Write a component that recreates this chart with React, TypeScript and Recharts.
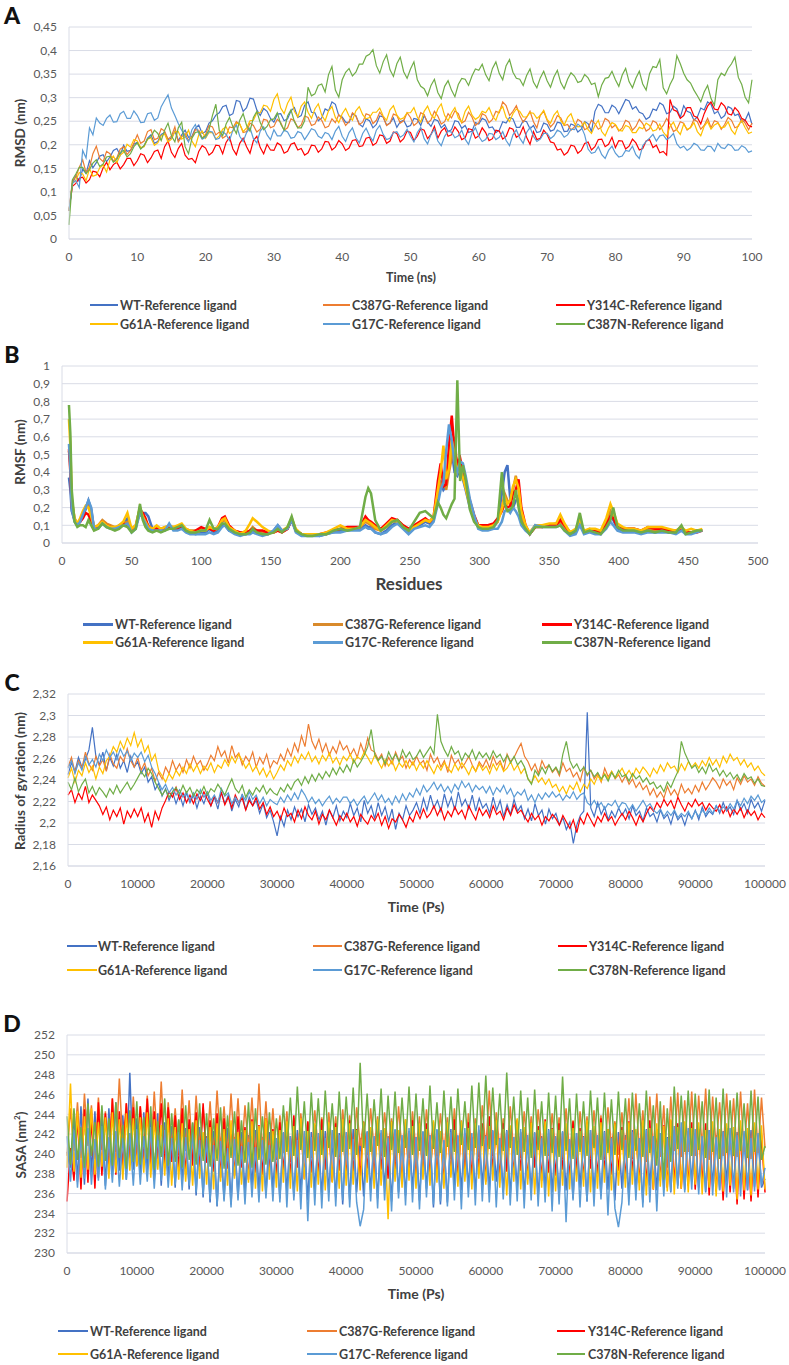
import { LineChart, Line, XAxis, YAxis, CartesianGrid } from "recharts";

const FONT = "Lato, 'Open Sans', sans-serif";
const GRID = "#D9DCE6";
const TEXT = "#404040";

// ---------- A: RMSD (nm) vs time (ns), every 0.5 ns ----------
const rmsdTime = Array.from({ length: 201 }, (_, i) => i * 0.5);
const rmsdWT = [
  0.060,0.118,0.134,0.122,0.148,0.139,0.166,0.151,0.162,0.176,0.179,0.164,0.174,0.188,0.192,0.178,0.199,0.186,0.188,0.201,
  0.205,0.192,0.198,0.214,0.221,0.203,0.207,0.222,0.226,0.211,0.214,0.229,0.209,0.221,0.231,0.216,0.218,0.235,0.242,0.224,
  0.228,0.246,0.251,0.263,0.268,0.281,0.284,0.262,0.266,0.294,0.292,0.271,0.279,0.299,0.297,0.274,0.262,0.277,0.271,0.256,
  0.248,0.265,0.266,0.251,0.255,0.272,0.279,0.258,0.262,0.284,0.291,0.269,0.268,0.251,0.257,0.276,0.272,0.291,0.286,0.262,
  0.259,0.248,0.247,0.266,0.262,0.244,0.238,0.255,0.251,0.236,0.243,0.261,0.259,0.242,0.246,0.257,0.237,0.249,0.252,0.238,
  0.241,0.256,0.254,0.241,0.262,0.248,0.239,0.254,0.251,0.236,0.243,0.228,0.232,0.251,0.249,0.235,0.241,0.226,0.229,0.247,
  0.244,0.256,0.252,0.236,0.238,0.226,0.231,0.249,0.246,0.258,0.255,0.237,0.237,0.251,0.249,0.234,0.241,0.226,0.228,0.246,
  0.243,0.229,0.232,0.248,0.246,0.228,0.229,0.244,0.241,0.227,0.233,0.249,0.245,0.228,0.271,0.286,0.282,0.268,0.268,0.284,
  0.279,0.266,0.281,0.296,0.293,0.276,0.281,0.269,0.266,0.254,0.259,0.276,0.273,0.289,0.284,0.266,0.269,0.282,0.276,0.258,
  0.283,0.271,0.268,0.252,0.259,0.278,0.274,0.291,0.286,0.266,0.271,0.256,0.262,0.281,0.277,0.262,0.265,0.248,0.252,0.268,
  0.243,
];
const rmsdC387G = [
  0.060,0.124,0.132,0.152,0.168,0.141,0.152,0.181,0.197,0.171,0.164,0.186,0.181,0.165,0.172,0.191,0.196,0.179,0.188,0.204,
  0.221,0.203,0.208,0.228,0.232,0.211,0.214,0.234,0.229,0.212,0.218,0.238,0.206,0.217,0.224,0.209,0.216,0.232,0.231,0.214,
  0.222,0.241,0.238,0.221,0.227,0.214,0.219,0.238,0.236,0.249,0.244,0.226,0.228,0.246,0.241,0.227,0.233,0.254,0.252,0.236,
  0.239,0.254,0.247,0.231,0.236,0.255,0.251,0.236,0.242,0.261,0.258,0.241,0.244,0.259,0.252,0.236,0.239,0.255,0.247,0.264,
  0.256,0.241,0.249,0.268,0.261,0.243,0.248,0.266,0.263,0.245,0.252,0.269,0.259,0.241,0.246,0.265,0.262,0.246,0.251,0.268,
  0.258,0.241,0.247,0.268,0.264,0.246,0.253,0.271,0.261,0.244,0.249,0.266,0.257,0.272,0.266,0.246,0.251,0.269,0.259,0.241,
  0.247,0.266,0.262,0.247,0.254,0.271,0.268,0.291,0.283,0.262,0.271,0.283,0.262,0.248,0.258,0.271,0.249,0.236,0.263,0.271,
  0.252,0.238,0.246,0.262,0.257,0.241,0.243,0.231,0.238,0.254,0.249,0.232,0.236,0.252,0.245,0.233,0.238,0.256,0.251,0.236,
  0.242,0.229,0.236,0.252,0.248,0.231,0.239,0.254,0.245,0.229,0.234,0.251,0.247,0.232,0.241,0.256,0.244,0.228,0.233,0.249,
  0.246,0.231,0.237,0.254,0.249,0.233,0.241,0.256,0.236,0.251,0.248,0.233,0.243,0.258,0.252,0.236,0.239,0.254,0.246,0.232,
  0.246,
];
const rmsdY314C = [
  0.060,0.112,0.118,0.129,0.131,0.119,0.126,0.144,0.142,0.132,0.151,0.163,0.147,0.158,0.163,0.149,0.158,0.171,0.171,0.156,
  0.166,0.181,0.178,0.162,0.172,0.186,0.189,0.171,0.196,0.208,0.184,0.173,0.192,0.203,0.178,0.169,0.171,0.162,0.186,0.198,
  0.193,0.178,0.184,0.199,0.198,0.181,0.205,0.216,0.191,0.179,0.203,0.214,0.196,0.182,0.209,0.218,0.194,0.181,0.201,0.189,
  0.188,0.204,0.199,0.182,0.186,0.201,0.204,0.189,0.192,0.178,0.183,0.199,0.198,0.184,0.191,0.207,0.206,0.189,0.195,0.209,
  0.202,0.188,0.193,0.209,0.211,0.196,0.198,0.214,0.216,0.199,0.204,0.221,0.219,0.203,0.208,0.227,0.224,0.206,0.213,0.229,
  0.226,0.209,0.218,0.234,0.231,0.213,0.222,0.239,0.214,0.229,0.236,0.218,0.221,0.238,0.228,0.211,0.215,0.234,0.232,0.214,
  0.219,0.236,0.226,0.209,0.213,0.231,0.229,0.212,0.218,0.236,0.233,0.216,0.221,0.238,0.216,0.201,0.228,0.211,0.214,0.231,
  0.222,0.206,0.204,0.189,0.191,0.178,0.184,0.199,0.197,0.182,0.188,0.203,0.206,0.189,0.196,0.211,0.212,0.196,0.201,0.216,
  0.194,0.209,0.208,0.191,0.197,0.212,0.204,0.189,0.192,0.208,0.211,0.194,0.199,0.183,0.186,0.178,0.296,0.274,0.271,0.256,
  0.262,0.279,0.279,0.261,0.258,0.244,0.266,0.282,0.291,0.276,0.274,0.289,0.282,0.266,0.263,0.279,0.271,0.256,0.252,0.241,
  0.238,
];
const rmsdG61A = [
  0.060,0.118,0.125,0.141,0.138,0.124,0.149,0.133,0.136,0.151,0.157,0.142,0.168,0.176,0.162,0.178,0.184,0.201,0.195,0.211,
  0.208,0.194,0.196,0.212,0.215,0.199,0.204,0.219,0.223,0.206,0.212,0.228,0.228,0.212,0.217,0.231,0.208,0.196,0.221,0.229,
  0.214,0.226,0.226,0.212,0.219,0.233,0.238,0.224,0.229,0.246,0.244,0.228,0.236,0.251,0.252,0.268,0.268,0.284,0.282,0.271,
  0.296,0.308,0.278,0.266,0.288,0.301,0.271,0.259,0.282,0.291,0.269,0.256,0.276,0.287,0.263,0.251,0.272,0.281,0.258,0.247,
  0.266,0.277,0.261,0.252,0.272,0.281,0.264,0.255,0.258,0.269,0.269,0.278,0.261,0.252,0.274,0.283,0.263,0.254,0.257,0.268,
  0.268,0.279,0.259,0.248,0.271,0.282,0.264,0.256,0.276,0.287,0.262,0.251,0.268,0.279,0.257,0.248,0.271,0.282,0.263,0.254,
  0.259,0.271,0.268,0.279,0.261,0.252,0.272,0.281,0.258,0.249,0.266,0.276,0.271,0.259,0.259,0.268,0.267,0.256,0.262,0.273,
  0.254,0.246,0.263,0.272,0.251,0.242,0.258,0.266,0.246,0.238,0.239,0.248,0.232,0.224,0.241,0.252,0.228,0.219,0.236,0.247,
  0.243,0.231,0.229,0.241,0.238,0.226,0.226,0.237,0.234,0.246,0.241,0.229,0.232,0.244,0.227,0.218,0.239,0.248,0.231,0.222,
  0.244,0.233,0.236,0.247,0.228,0.219,0.239,0.249,0.233,0.242,0.246,0.236,0.238,0.249,0.231,0.222,0.242,0.251,0.236,0.224,
  0.227,
];
const rmsdG17C = [
  0.060,0.118,0.124,0.109,0.188,0.172,0.236,0.221,0.257,0.246,0.241,0.256,0.263,0.248,0.249,0.266,0.271,0.256,0.256,0.272,
  0.262,0.247,0.248,0.266,0.268,0.252,0.257,0.281,0.294,0.306,0.278,0.262,0.245,0.231,0.218,0.206,0.232,0.243,0.224,0.212,
  0.216,0.229,0.227,0.211,0.214,0.228,0.222,0.209,0.231,0.242,0.218,0.207,0.226,0.236,0.213,0.204,0.229,0.238,0.221,0.211,
  0.232,0.219,0.219,0.231,0.227,0.214,0.216,0.228,0.225,0.211,0.222,0.234,0.231,0.218,0.214,0.226,0.223,0.211,0.229,0.239,
  0.218,0.207,0.226,0.236,0.215,0.204,0.224,0.235,0.219,0.208,0.231,0.241,0.222,0.211,0.214,0.226,0.228,0.216,0.221,0.233,
  0.218,0.206,0.226,0.237,0.213,0.202,0.222,0.233,0.208,0.198,0.218,0.229,0.227,0.215,0.219,0.231,0.212,0.201,0.225,0.236,
  0.218,0.207,0.211,0.224,0.223,0.211,0.216,0.228,0.209,0.198,0.221,0.232,0.214,0.203,0.226,0.237,0.218,0.207,0.212,0.224,
  0.224,0.213,0.219,0.231,0.227,0.216,0.221,0.233,0.232,0.244,0.238,0.221,0.191,0.182,0.184,0.196,0.179,0.171,0.188,0.197,
  0.182,0.174,0.176,0.188,0.186,0.197,0.179,0.171,0.198,0.207,0.214,0.222,0.208,0.219,0.221,0.211,0.216,0.224,0.202,0.193,
  0.197,0.188,0.193,0.203,0.199,0.189,0.188,0.197,0.196,0.186,0.203,0.194,0.192,0.201,0.198,0.188,0.189,0.198,0.194,0.184,
  0.187,
];
const rmsdC387N = [
  0.030,0.126,0.138,0.152,0.152,0.139,0.147,0.161,0.168,0.154,0.159,0.174,0.176,0.163,0.169,0.184,0.188,0.174,0.181,0.196,
  0.204,0.191,0.198,0.212,0.217,0.231,0.224,0.209,0.231,0.246,0.219,0.206,0.236,0.248,0.196,0.181,0.214,0.226,0.228,0.214,
  0.219,0.232,0.262,0.286,0.231,0.219,0.244,0.258,0.238,0.224,0.252,0.266,0.241,0.229,0.258,0.271,0.247,0.232,0.239,0.253,
  0.255,0.268,0.244,0.231,0.261,0.274,0.249,0.236,0.236,0.251,0.322,0.304,0.308,0.326,0.329,0.312,0.349,0.366,0.316,0.301,
  0.338,0.354,0.362,0.346,0.354,0.371,0.371,0.388,0.392,0.402,0.368,0.352,0.376,0.391,0.359,0.345,0.372,0.386,0.355,0.341,
  0.361,0.376,0.338,0.324,0.319,0.304,0.326,0.339,0.311,0.298,0.324,0.336,0.316,0.302,0.328,0.341,0.339,0.326,0.346,0.361,
  0.358,0.371,0.349,0.336,0.362,0.376,0.351,0.338,0.368,0.381,0.354,0.341,0.339,0.326,0.347,0.361,0.333,0.321,0.342,0.356,
  0.336,0.322,0.344,0.358,0.332,0.319,0.339,0.353,0.346,0.332,0.335,0.349,0.342,0.328,0.331,0.302,0.327,0.341,0.343,0.356,
  0.338,0.324,0.348,0.362,0.334,0.321,0.341,0.356,0.329,0.316,0.351,0.366,0.364,0.381,0.321,0.308,0.328,0.342,0.389,0.372,
  0.352,0.338,0.331,0.316,0.304,0.291,0.312,0.326,0.298,0.284,0.338,0.352,0.347,0.362,0.372,0.386,0.343,0.328,0.301,0.289,
  0.338,
];
const rmsdYTicks = [0, 0.05, 0.1, 0.15, 0.2, 0.25, 0.3, 0.35, 0.4, 0.45];
const rmsdXTicks = [0, 10, 20, 30, 40, 50, 60, 70, 80, 90, 100];

// ---------- B: RMSF (nm) vs residue ----------
const residues = [
  5, 6, 7, 9, 11, 13, 15, 17, 19, 21,
  23, 26, 29, 32, 35, 38, 41, 44, 47, 50,
  53, 56, 58, 60, 62, 65, 68, 71, 74, 77,
  80, 83, 86, 89, 92, 96, 100, 103, 106, 109,
  112, 115, 117, 120, 124, 128, 132, 135, 137, 140,
  144, 148, 152, 155, 158, 162, 165, 168, 172, 176,
  180, 185, 190, 195, 200, 205, 210, 214, 218, 220,
  222, 225, 229, 233, 237, 241, 245, 249, 253, 257,
  261, 264, 267, 270, 272, 274, 276, 278, 280, 282,
  284, 286, 288, 290, 293, 296, 299, 302, 306, 310,
  313, 316, 318, 320, 322, 324, 326, 328, 330, 333,
  336, 340, 345, 350, 355, 358, 361, 365, 369, 372,
  375, 379, 383, 387, 391, 394, 396, 399, 403, 407,
  411, 416, 421, 426, 431, 436, 441, 445, 448, 452,
  456, 460,
];
const rmsfWT = [
  0.37, 0.30, 0.18, 0.13, 0.11, 0.12, 0.15, 0.19, 0.24, 0.19,
  0.08, 0.09, 0.12, 0.10, 0.09, 0.08, 0.10, 0.11, 0.14, 0.07,
  0.09, 0.19, 0.17, 0.17, 0.15, 0.08, 0.08, 0.08, 0.08, 0.10,
  0.08, 0.08, 0.09, 0.07, 0.06, 0.05, 0.06, 0.06, 0.08, 0.06,
  0.07, 0.10, 0.10, 0.07, 0.06, 0.05, 0.05, 0.06, 0.07, 0.06,
  0.05, 0.05, 0.07, 0.10, 0.07, 0.08, 0.13, 0.07, 0.05, 0.05,
  0.05, 0.04, 0.05, 0.06, 0.07, 0.07, 0.08, 0.08, 0.10, 0.09,
  0.09, 0.06, 0.05, 0.07, 0.10, 0.12, 0.09, 0.06, 0.09, 0.10,
  0.12, 0.11, 0.13, 0.28, 0.34, 0.30, 0.32, 0.48, 0.52, 0.40,
  0.38, 0.42, 0.36, 0.30, 0.20, 0.14, 0.09, 0.08, 0.08, 0.09,
  0.12, 0.28, 0.40, 0.44, 0.25, 0.20, 0.24, 0.25, 0.15, 0.09,
  0.05, 0.10, 0.09, 0.10, 0.11, 0.13, 0.09, 0.05, 0.06, 0.11,
  0.06, 0.07, 0.06, 0.05, 0.10, 0.15, 0.13, 0.08, 0.07, 0.07,
  0.07, 0.06, 0.07, 0.06, 0.07, 0.06, 0.06, 0.08, 0.06, 0.06,
  0.07, 0.07,
];
const rmsfC387G = [
  0.52, 0.45, 0.24, 0.14, 0.11, 0.13, 0.17, 0.20, 0.21, 0.17,
  0.09, 0.10, 0.13, 0.11, 0.10, 0.09, 0.09, 0.11, 0.12, 0.08,
  0.10, 0.20, 0.16, 0.13, 0.10, 0.08, 0.09, 0.08, 0.09, 0.09,
  0.09, 0.09, 0.10, 0.08, 0.07, 0.07, 0.08, 0.07, 0.09, 0.07,
  0.08, 0.12, 0.13, 0.09, 0.07, 0.06, 0.06, 0.07, 0.09, 0.07,
  0.06, 0.06, 0.06, 0.07, 0.06, 0.08, 0.14, 0.07, 0.05, 0.05,
  0.05, 0.05, 0.05, 0.07, 0.08, 0.08, 0.08, 0.09, 0.12, 0.11,
  0.10, 0.08, 0.07, 0.09, 0.12, 0.13, 0.10, 0.08, 0.10, 0.11,
  0.13, 0.12, 0.14, 0.26, 0.33, 0.36, 0.30, 0.40, 0.48, 0.60,
  0.42, 0.45, 0.38, 0.32, 0.22, 0.15, 0.10, 0.09, 0.09, 0.10,
  0.13, 0.20, 0.28, 0.24, 0.22, 0.30, 0.38, 0.30, 0.17, 0.09,
  0.05, 0.09, 0.10, 0.10, 0.10, 0.12, 0.08, 0.06, 0.07, 0.12,
  0.06, 0.08, 0.07, 0.06, 0.11, 0.18, 0.15, 0.09, 0.08, 0.08,
  0.08, 0.07, 0.08, 0.07, 0.08, 0.07, 0.07, 0.08, 0.06, 0.06,
  0.07, 0.07,
];
const rmsfY314C = [
  0.53, 0.40, 0.20, 0.13, 0.10, 0.12, 0.14, 0.17, 0.16, 0.12,
  0.08, 0.09, 0.12, 0.10, 0.09, 0.08, 0.09, 0.11, 0.10, 0.07,
  0.09, 0.18, 0.17, 0.14, 0.09, 0.07, 0.08, 0.07, 0.08, 0.09,
  0.08, 0.08, 0.10, 0.07, 0.06, 0.07, 0.09, 0.08, 0.08, 0.07,
  0.09, 0.14, 0.15, 0.10, 0.07, 0.06, 0.06, 0.07, 0.08, 0.07,
  0.07, 0.06, 0.06, 0.07, 0.06, 0.08, 0.13, 0.07, 0.05, 0.05,
  0.05, 0.05, 0.06, 0.07, 0.08, 0.09, 0.09, 0.09, 0.15, 0.13,
  0.12, 0.10, 0.08, 0.11, 0.14, 0.13, 0.10, 0.08, 0.10, 0.12,
  0.14, 0.12, 0.15, 0.35, 0.45, 0.32, 0.33, 0.55, 0.72, 0.52,
  0.45, 0.48, 0.40, 0.33, 0.24, 0.16, 0.10, 0.10, 0.10, 0.11,
  0.14, 0.18, 0.22, 0.20, 0.21, 0.28, 0.30, 0.36, 0.20, 0.10,
  0.05, 0.09, 0.09, 0.10, 0.10, 0.13, 0.10, 0.06, 0.07, 0.12,
  0.06, 0.07, 0.07, 0.06, 0.10, 0.15, 0.14, 0.09, 0.08, 0.08,
  0.08, 0.07, 0.09, 0.08, 0.08, 0.07, 0.07, 0.08, 0.06, 0.06,
  0.06, 0.07,
];
const rmsfG61A = [
  0.70, 0.55, 0.25, 0.14, 0.11, 0.14, 0.18, 0.21, 0.20, 0.15,
  0.09, 0.10, 0.12, 0.10, 0.09, 0.09, 0.10, 0.12, 0.17, 0.08,
  0.10, 0.20, 0.15, 0.12, 0.09, 0.08, 0.10, 0.08, 0.09, 0.10,
  0.09, 0.10, 0.11, 0.08, 0.07, 0.06, 0.07, 0.07, 0.09, 0.08,
  0.09, 0.13, 0.14, 0.09, 0.07, 0.05, 0.07, 0.11, 0.14, 0.12,
  0.09, 0.07, 0.06, 0.08, 0.07, 0.09, 0.14, 0.08, 0.05, 0.05,
  0.05, 0.05, 0.06, 0.08, 0.10, 0.08, 0.08, 0.09, 0.13, 0.12,
  0.11, 0.09, 0.07, 0.10, 0.13, 0.12, 0.09, 0.07, 0.09, 0.11,
  0.13, 0.12, 0.15, 0.30, 0.40, 0.55, 0.36, 0.42, 0.58, 0.50,
  0.40, 0.43, 0.37, 0.31, 0.21, 0.14, 0.10, 0.09, 0.09, 0.10,
  0.12, 0.19, 0.26, 0.22, 0.24, 0.32, 0.36, 0.31, 0.18, 0.10,
  0.06, 0.10, 0.10, 0.11, 0.11, 0.16, 0.11, 0.06, 0.08, 0.13,
  0.07, 0.08, 0.08, 0.07, 0.14, 0.22, 0.18, 0.11, 0.09, 0.08,
  0.08, 0.07, 0.09, 0.09, 0.09, 0.08, 0.07, 0.09, 0.07, 0.08,
  0.07, 0.08,
];
const rmsfG17C = [
  0.56, 0.42, 0.19, 0.12, 0.10, 0.12, 0.16, 0.20, 0.24, 0.20,
  0.08, 0.08, 0.11, 0.09, 0.08, 0.08, 0.09, 0.10, 0.11, 0.06,
  0.08, 0.17, 0.14, 0.11, 0.08, 0.07, 0.07, 0.07, 0.07, 0.11,
  0.07, 0.07, 0.08, 0.06, 0.05, 0.05, 0.05, 0.05, 0.06, 0.05,
  0.06, 0.09, 0.10, 0.07, 0.05, 0.04, 0.05, 0.05, 0.06, 0.05,
  0.04, 0.05, 0.07, 0.10, 0.07, 0.08, 0.13, 0.06, 0.04, 0.04,
  0.04, 0.04, 0.05, 0.06, 0.06, 0.07, 0.07, 0.07, 0.09, 0.08,
  0.08, 0.06, 0.05, 0.06, 0.09, 0.11, 0.08, 0.05, 0.08, 0.09,
  0.10, 0.09, 0.12, 0.22, 0.30, 0.34, 0.52, 0.67, 0.58, 0.45,
  0.40, 0.46, 0.45, 0.38, 0.25, 0.16, 0.08, 0.07, 0.07, 0.08,
  0.08, 0.12, 0.18, 0.19, 0.17, 0.20, 0.18, 0.15, 0.10, 0.07,
  0.05, 0.10, 0.09, 0.09, 0.09, 0.10, 0.07, 0.04, 0.05, 0.10,
  0.05, 0.06, 0.05, 0.05, 0.08, 0.12, 0.10, 0.07, 0.06, 0.06,
  0.06, 0.05, 0.06, 0.06, 0.06, 0.06, 0.05, 0.07, 0.05, 0.05,
  0.06, 0.07,
];
const rmsfC387N = [
  0.78, 0.62, 0.30, 0.12, 0.09, 0.10, 0.10, 0.09, 0.13, 0.10,
  0.07, 0.08, 0.11, 0.09, 0.08, 0.07, 0.08, 0.10, 0.09, 0.06,
  0.08, 0.22, 0.13, 0.09, 0.07, 0.06, 0.07, 0.06, 0.07, 0.08,
  0.08, 0.09, 0.10, 0.07, 0.06, 0.06, 0.07, 0.07, 0.13, 0.08,
  0.08, 0.11, 0.11, 0.08, 0.06, 0.05, 0.05, 0.06, 0.08, 0.06,
  0.05, 0.05, 0.06, 0.08, 0.06, 0.09, 0.15, 0.07, 0.05, 0.04,
  0.04, 0.05, 0.05, 0.07, 0.08, 0.07, 0.08, 0.09, 0.26, 0.31,
  0.28, 0.13, 0.07, 0.09, 0.12, 0.13, 0.09, 0.07, 0.12, 0.17,
  0.18, 0.16, 0.14, 0.23, 0.20, 0.16, 0.14, 0.18, 0.22, 0.25,
  0.92, 0.35, 0.44, 0.36, 0.19, 0.12, 0.09, 0.08, 0.08, 0.09,
  0.13, 0.40, 0.22, 0.18, 0.19, 0.21, 0.30, 0.20, 0.12, 0.08,
  0.05, 0.09, 0.09, 0.09, 0.09, 0.10, 0.07, 0.05, 0.07, 0.17,
  0.06, 0.07, 0.06, 0.05, 0.09, 0.13, 0.20, 0.09, 0.07, 0.07,
  0.07, 0.06, 0.07, 0.06, 0.07, 0.06, 0.06, 0.10, 0.05, 0.06,
  0.07, 0.07,
];
const rmsfYTicks = [0, 0.1, 0.2, 0.3, 0.4, 0.5, 0.6, 0.7, 0.8, 0.9, 1];
const rmsfXTicks = [0, 50, 100, 150, 200, 250, 300, 350, 400, 450, 500];

// ---------- C: radius of gyration (nm) vs time (ps), every 500 ps ----------
const rgTime = Array.from({ length: 201 }, (_, i) => i * 500);
const rgWT = [
  2.245,2.256,2.248,2.261,2.252,2.259,2.268,2.289,2.262,2.254,2.266,2.249,2.261,2.253,2.264,2.251,2.258,2.247,2.262,2.252,
  2.257,2.246,2.252,2.238,2.243,2.231,2.237,2.225,2.232,2.221,2.229,2.218,2.227,2.216,2.228,2.219,2.226,2.214,2.225,2.218,
  2.228,2.216,2.224,2.213,2.229,2.218,2.226,2.211,2.222,2.215,2.227,2.212,2.224,2.216,2.221,2.209,2.218,2.205,2.212,2.201,
  2.188,2.206,2.197,2.212,2.203,2.215,2.206,2.213,2.201,2.217,2.208,2.214,2.203,2.211,2.198,2.212,2.205,2.216,2.202,2.211,
  2.205,2.218,2.207,2.214,2.201,2.221,2.209,2.216,2.204,2.219,2.207,2.215,2.202,2.213,2.194,2.209,2.203,2.216,2.207,2.212,
  2.219,2.209,2.223,2.212,2.226,2.214,2.221,2.211,2.227,2.215,2.224,2.212,2.229,2.216,2.222,2.213,2.226,2.211,2.223,2.214,
  2.218,2.209,2.224,2.212,2.221,2.206,2.217,2.208,2.222,2.211,2.216,2.204,2.213,2.202,2.218,2.207,2.212,2.199,2.213,2.204,
  2.209,2.198,2.205,2.194,2.201,2.181,2.198,2.207,2.211,2.303,2.214,2.206,2.219,2.208,2.215,2.203,2.211,2.205,2.214,2.207,
  2.213,2.204,2.216,2.207,2.211,2.202,2.214,2.206,2.209,2.201,2.212,2.204,2.208,2.199,2.211,2.203,2.207,2.198,2.209,2.204,
  2.212,2.203,2.215,2.206,2.211,2.208,2.216,2.209,2.219,2.211,2.215,2.208,2.221,2.212,2.218,2.209,2.222,2.214,2.219,2.211,
  2.221,
];
const rgC387G = [
  2.252,2.261,2.247,2.258,2.251,2.266,2.255,2.249,2.262,2.253,2.259,2.248,2.264,2.255,2.251,2.262,2.257,2.269,2.258,2.252,
  2.261,2.249,2.256,2.244,2.251,2.239,2.247,2.241,2.252,2.246,2.258,2.249,2.255,2.247,2.259,2.251,2.262,2.254,2.258,2.249,
  2.255,2.263,2.258,2.271,2.262,2.267,2.256,2.272,2.261,2.265,2.254,2.262,2.257,2.266,2.252,2.261,2.255,2.264,2.251,2.258,
  2.255,2.264,2.258,2.269,2.262,2.274,2.266,2.281,2.271,2.292,2.276,2.269,2.278,2.266,2.274,2.263,2.271,2.265,2.276,2.268,
  2.272,2.263,2.269,2.261,2.274,2.265,2.279,2.268,2.266,2.259,2.264,2.253,2.261,2.255,2.266,2.258,2.262,2.251,2.259,2.254,
  2.262,2.255,2.258,2.249,2.264,2.256,2.261,2.252,2.258,2.247,2.263,2.255,2.259,2.251,2.256,2.262,2.254,2.248,2.257,2.252,
  2.259,2.251,2.262,2.254,2.258,2.249,2.264,2.257,2.261,2.268,2.274,2.262,2.257,2.249,2.255,2.246,2.258,2.251,2.254,2.247,
  2.251,2.244,2.256,2.248,2.251,2.243,2.247,2.239,2.252,2.244,2.249,2.241,2.246,2.238,2.251,2.243,2.248,2.241,2.245,2.238,
  2.244,2.236,2.241,2.233,2.238,2.231,2.235,2.226,2.232,2.224,2.229,2.223,2.234,2.226,2.231,2.225,2.236,2.228,2.232,2.227,
  2.235,2.229,2.238,2.231,2.236,2.242,2.238,2.232,2.241,2.235,2.239,2.231,2.242,2.236,2.244,2.238,2.241,2.235,2.243,2.237,
  2.234,
];
const rgY314C = [
  2.226,2.231,2.219,2.228,2.222,2.234,2.219,2.226,2.221,2.216,2.208,2.215,2.203,2.212,2.206,2.214,2.199,2.211,2.205,2.213,
  2.206,2.214,2.201,2.209,2.196,2.211,2.203,2.214,2.221,2.229,2.224,2.233,2.222,2.228,2.219,2.226,2.218,2.227,2.221,2.229,
  2.222,2.216,2.225,2.219,2.228,2.217,2.224,2.214,2.226,2.219,2.223,2.212,2.221,2.216,2.224,2.213,2.219,2.208,2.215,2.206,
  2.211,2.203,2.214,2.206,2.209,2.201,2.212,2.204,2.215,2.207,2.203,2.211,2.199,2.208,2.203,2.212,2.205,2.198,2.207,2.202,
  2.209,2.201,2.206,2.197,2.208,2.203,2.199,2.207,2.202,2.209,2.198,2.206,2.195,2.204,2.201,2.208,2.203,2.196,2.206,2.201,
  2.211,2.204,2.213,2.205,2.209,2.216,2.207,2.214,2.203,2.211,2.206,2.215,2.208,2.212,2.204,2.216,2.209,2.203,2.214,2.207,
  2.212,2.205,2.216,2.208,2.211,2.203,2.214,2.207,2.217,2.209,2.212,2.206,2.201,2.209,2.203,2.207,2.198,2.206,2.202,2.208,
  2.204,2.198,2.207,2.201,2.195,2.203,2.191,2.205,2.199,2.209,2.203,2.197,2.206,2.201,2.209,2.202,2.206,2.198,2.204,2.209,
  2.203,2.211,2.205,2.198,2.207,2.201,2.209,2.215,2.211,2.219,2.214,2.222,2.216,2.221,2.213,2.224,2.217,2.211,2.219,2.215,
  2.222,2.216,2.219,2.212,2.218,2.214,2.211,2.217,2.209,2.215,2.206,2.213,2.208,2.214,2.205,2.212,2.207,2.211,2.203,2.209,
  2.205,
];
const rgG61A = [
  2.242,2.251,2.238,2.249,2.244,2.256,2.247,2.253,2.241,2.252,2.246,2.258,2.262,2.271,2.266,2.276,2.269,2.279,2.272,2.284,
  2.271,2.278,2.266,2.272,2.258,2.264,2.249,2.244,2.238,2.246,2.241,2.249,2.244,2.252,2.246,2.255,2.248,2.254,2.246,2.253,
  2.249,2.256,2.247,2.254,2.251,2.259,2.253,2.262,2.256,2.264,2.258,2.251,2.256,2.248,2.253,2.245,2.251,2.243,2.249,2.241,
  2.247,2.254,2.249,2.258,2.253,2.262,2.256,2.264,2.259,2.266,2.257,2.262,2.255,2.263,2.258,2.265,2.256,2.261,2.254,2.262,
  2.258,2.264,2.256,2.262,2.259,2.266,2.261,2.255,2.263,2.257,2.251,2.259,2.253,2.258,2.249,2.256,2.252,2.258,2.251,2.257,
  2.249,2.256,2.251,2.258,2.252,2.246,2.254,2.249,2.256,2.251,2.247,2.255,2.249,2.256,2.251,2.245,2.253,2.248,2.255,2.249,
  2.253,2.246,2.255,2.249,2.256,2.248,2.251,2.257,2.249,2.254,2.246,2.251,2.241,2.237,2.244,2.238,2.242,2.236,2.241,2.233,
  2.236,2.229,2.234,2.227,2.235,2.231,2.238,2.229,2.236,2.232,2.241,2.236,2.244,2.239,2.246,2.241,2.248,2.242,2.246,2.251,
  2.244,2.249,2.243,2.251,2.246,2.252,2.248,2.243,2.251,2.246,2.254,2.248,2.256,2.251,2.253,2.247,2.255,2.249,2.257,2.252,
  2.256,2.251,2.258,2.253,2.261,2.254,2.259,2.252,2.262,2.256,2.264,2.258,2.261,2.254,2.259,2.252,2.256,2.249,2.253,2.247,
  2.244,
];
const rgG17C = [
  2.251,2.258,2.246,2.256,2.249,2.262,2.254,2.259,2.252,2.264,2.258,2.268,2.261,2.266,2.259,2.269,2.262,2.267,2.258,2.265,
  2.261,2.266,2.257,2.263,2.252,2.246,2.238,2.231,2.236,2.228,2.233,2.226,2.231,2.224,2.229,2.221,2.228,2.222,2.231,2.224,
  2.229,2.221,2.226,2.219,2.232,2.225,2.228,2.218,2.224,2.219,2.226,2.221,2.229,2.222,2.226,2.218,2.224,2.216,2.222,2.219,
  2.217,2.224,2.219,2.226,2.221,2.228,2.222,2.231,2.226,2.219,2.224,2.218,2.222,2.216,2.221,2.225,2.218,2.223,2.219,2.224,
  2.224,2.218,2.222,2.216,2.221,2.225,2.218,2.223,2.228,2.221,2.226,2.219,2.223,2.217,2.225,2.219,2.227,2.221,2.228,2.224,
  2.232,2.226,2.235,2.229,2.233,2.238,2.231,2.236,2.229,2.234,2.228,2.236,2.231,2.239,2.233,2.237,2.229,2.235,2.231,2.234,
  2.228,2.234,2.226,2.233,2.229,2.235,2.227,2.232,2.224,2.229,2.226,2.231,2.221,2.226,2.219,2.227,2.222,2.228,2.224,2.229,
  2.224,2.227,2.221,2.226,2.223,2.229,2.222,2.226,2.228,2.219,2.216,2.221,2.215,2.219,2.213,2.218,2.216,2.221,2.214,2.219,
  2.218,2.212,2.217,2.211,2.216,2.221,2.215,2.218,2.212,2.209,2.213,2.206,2.211,2.207,2.212,2.205,2.209,2.206,2.211,2.204,
  2.211,2.206,2.212,2.208,2.214,2.209,2.216,2.211,2.215,2.212,2.218,2.213,2.221,2.216,2.223,2.218,2.225,2.221,2.226,2.219,
  2.222,
];
const rgC387N = [
  2.238,2.231,2.242,2.229,2.236,2.241,2.228,2.234,2.226,2.233,2.229,2.224,2.232,2.227,2.235,2.228,2.233,2.238,2.231,2.236,
  2.242,2.248,2.243,2.251,2.246,2.238,2.232,2.226,2.231,2.224,2.229,2.233,2.227,2.235,2.228,2.233,2.225,2.231,2.227,2.234,
  2.226,2.232,2.229,2.236,2.231,2.226,2.234,2.241,2.232,2.228,2.235,2.224,2.231,2.226,2.233,2.229,2.235,2.227,2.232,2.228,
  2.226,2.233,2.229,2.236,2.231,2.238,2.241,2.235,2.243,2.237,2.245,2.239,2.246,2.241,2.248,2.243,2.251,2.245,2.252,2.247,
  2.254,2.248,2.259,2.252,2.257,2.263,2.271,2.287,2.264,2.258,2.262,2.255,2.266,2.259,2.264,2.257,2.268,2.261,2.266,2.259,
  2.262,2.268,2.261,2.266,2.271,2.264,2.301,2.276,2.268,2.262,2.271,2.264,2.267,2.258,2.265,2.261,2.268,2.259,2.266,2.261,
  2.265,2.259,2.267,2.261,2.264,2.257,2.263,2.256,2.262,2.254,2.258,2.252,2.241,2.236,2.249,2.244,2.252,2.246,2.254,2.248,
  2.252,2.246,2.264,2.276,2.258,2.251,2.255,2.248,2.252,2.245,2.249,2.243,2.247,2.241,2.245,2.239,2.247,2.242,2.249,2.243,
  2.245,2.239,2.246,2.241,2.244,2.238,2.242,2.236,2.238,2.232,2.235,2.229,2.238,2.233,2.241,2.248,2.276,2.265,2.258,2.251,
  2.254,2.247,2.252,2.246,2.255,2.248,2.251,2.244,2.249,2.243,2.247,2.241,2.245,2.239,2.246,2.241,2.243,2.237,2.241,2.235,
  2.234,
];
const rgYTicks = [2.16, 2.18, 2.2, 2.22, 2.24, 2.26, 2.28, 2.3, 2.32];
const psTicks = [0, 10000, 20000, 30000, 40000, 50000, 60000, 70000, 80000, 90000, 100000];

// ---------- D: SASA (nm2) vs time (ps), every 500 ps ----------
const sasaTime = Array.from({ length: 201 }, (_, i) => i * 500);
const sasaWT = [
  240.2,238.6,243.9,237.2,244.8,236.9,245.6,238.1,244.3,237.6,243.8,236.8,244.6,237.9,245.2,238.3,243.9,237.4,248.2,238.4,
  243.6,237.9,244.2,238.3,243.5,237.4,244.1,236.8,243.2,237.5,242.8,236.6,243.4,237.1,242.6,236.4,243.1,235.8,242.7,235.6,
  241.8,235.1,242.3,234.7,241.5,235.4,242.6,234.9,241.7,235.6,242.2,236.2,241.9,236.8,242.4,236.3,241.7,235.9,242.2,236.4,
  241.6,235.5,242.1,236.2,241.8,235.7,242.4,236.1,241.5,235.3,242.2,236.4,241.7,235.8,242.3,236.2,241.4,235.6,242.1,234.9,
  241.8,235.4,242.5,236.1,241.6,235.7,242.2,236.3,241.4,235.5,242.1,236.6,241.8,235.2,242.4,236.1,241.5,235.8,242.3,236.4,
  241.7,235.3,242.2,236.5,241.9,234.6,242.4,234.9,241.3,235.1,242.5,236.8,241.8,236.3,242.1,236.6,241.7,236.1,242.4,236.8,
  241.9,236.4,242.3,237.2,241.6,236.2,242.4,235.8,241.7,236.5,242.2,235.9,241.4,236.3,242.1,235.6,241.8,236.4,242.5,236.1,
  241.6,235.7,242.2,236.3,241.4,235.5,242.1,236.6,241.8,235.2,242.4,236.1,241.5,235.8,242.3,236.4,241.7,235.3,242.2,236.5,
  241.9,235.6,242.4,236.2,241.3,235.1,242.5,236.8,241.8,236.3,242.1,236.6,241.7,236.1,242.4,236.8,241.9,236.4,242.3,237.2,
  242.1,236.6,241.7,236.1,242.4,236.8,241.9,236.4,242.3,237.2,241.8,236.5,242.2,236.9,241.6,236.3,242.4,236.7,241.9,236.6,
  237.5,
];
const sasaC387G = [
  239.8,244.6,240.3,245.2,239.6,246.1,240.8,244.9,239.5,245.7,240.4,244.3,239.9,245.6,240.2,247.6,240.8,245.1,239.7,245.8,
  240.1,244.8,240.6,245.9,239.8,246.3,240.4,247.3,240.1,245.2,240.7,244.6,239.9,246.5,240.3,245.4,239.6,245.9,240.5,244.7,
  240.2,245.3,239.7,246.4,240.5,244.8,239.9,246.1,240.3,245.6,239.8,244.9,240.4,245.7,239.6,247.1,240.2,245.3,239.8,244.6,
  239.4,243.9,240.1,244.3,239.2,243.6,239.8,244.1,240.4,243.2,239.6,244.4,240.3,243.7,239.1,244.2,240.6,243.8,239.7,244.5,
  240.2,243.9,239.5,244.7,240.8,243.3,239.9,244.6,240.4,243.8,239.8,244.2,240.5,243.6,239.3,244.8,240.1,243.5,239.6,244.3,
  240.2,243.8,239.4,244.5,240.6,243.2,239.8,244.1,240.3,243.7,239.5,244.6,240.1,243.4,239.2,244.1,240.3,243.6,239.7,244.9,
  240.4,246.4,239.8,244.2,240.5,243.6,239.3,244.8,240.1,243.5,239.6,244.3,240.2,243.8,239.4,244.5,240.6,243.2,239.8,244.1,
  240.3,243.7,239.5,244.6,240.1,243.4,239.2,244.3,240.3,243.8,239.6,244.4,240.2,243.9,239.5,244.7,240.8,243.3,239.9,244.2,
  240.2,245.6,239.5,246.1,240.1,244.4,239.2,245.8,240.3,246.1,239.7,244.9,238.6,245.8,240.3,246.2,239.7,245.4,240.2,246.3,
  239.8,245.9,240.5,246.6,239.4,245.8,240.6,245.2,239.8,246.1,240.4,245.6,239.7,246.3,240.2,245.1,239.5,246.5,240.1,245.7,
  240.6,
];
const sasaY314C = [
  235.2,240.6,237.3,243.8,236.4,244.5,237.1,243.6,236.5,245.2,237.8,244.1,238.4,245.6,237.9,244.3,238.6,245.1,239.2,244.7,
  238.8,244.8,239.1,245.6,238.7,244.3,239.5,245.1,238.6,244.7,239.2,243.9,238.4,244.6,237.9,243.5,238.8,244.2,238.3,245.1,
  239.1,243.4,238.2,244.1,237.6,243.6,238.5,242.9,237.8,243.8,238.6,242.7,237.4,243.5,238.1,242.9,237.9,243.6,238.4,242.5,
  237.8,243.2,238.3,242.6,237.7,243.9,238.6,242.8,237.5,243.3,238.1,242.9,237.8,243.5,238.4,242.6,237.2,243.1,238.3,242.7,
  237.6,243.4,238.2,242.5,237.6,243.2,238.5,242.3,237.9,243.1,238.4,242.6,237.5,243.3,238.2,242.1,237.1,242.8,237.8,243.4,
  237.4,242.5,237.9,243.1,237.8,242.4,238.2,241.8,237.3,242.6,238.1,243.5,237.6,242.4,238.3,243.2,237.7,242.6,238.5,243.1,
  237.2,243.8,238.4,242.5,237.6,243.1,238.2,242.7,237.9,243.4,238.3,242.3,237.5,243.2,238.6,242.8,237.3,243.5,238.1,242.6,
  237.8,243.1,238.4,242.2,237.6,243.3,238.1,242.6,237.4,243.2,238.5,242.4,237.7,243.6,238.2,242.5,237.9,243.1,238.3,242.7,
  237.5,243.3,238.2,242.1,237.1,242.8,236.8,243.4,236.4,242.5,237.3,242.9,236.6,243.4,236.9,243.1,236.5,242.4,236.8,243.2,
  236.4,242.5,236.9,243.1,235.8,242.4,236.2,241.8,235.3,242.6,236.1,241.9,234.9,242.3,235.4,241.7,235.2,242.2,235.6,241.9,
  236.1,
];
const sasaG61A = [
  238.6,247.1,238.2,244.3,237.6,243.8,238.4,244.6,237.9,243.2,238.7,243.7,237.5,244.2,238.1,243.5,237.4,244.1,238.3,243.6,
  238.7,243.7,238.1,244.2,237.6,243.5,238.4,242.9,237.8,243.6,236.8,242.7,237.4,243.1,237.2,242.5,236.8,243.4,237.5,242.2,
  236.9,242.7,236.4,243.1,237.2,242.5,236.8,243.4,237.5,242.2,236.9,242.4,237.1,243.3,236.5,242.8,236.2,243.6,237.4,242.3,
  236.6,242.4,237.1,243.3,236.5,242.8,236.2,243.6,237.4,242.3,236.6,243.1,236.9,242.4,236.3,243.2,237.1,242.7,236.5,243.5,
  236.8,243.1,236.9,242.4,236.3,243.2,237.1,242.7,236.5,243.5,236.8,242.6,233.4,243.3,237.2,242.4,236.6,243.5,237.3,242.8,
  236.5,243.1,237.4,242.5,236.8,243.4,237.1,242.3,236.5,243.2,237.6,242.4,236.7,243.3,237.2,242.6,236.4,243.1,237.5,242.3,
  236.9,242.8,237.3,243.4,236.6,242.5,235.8,242.9,237.2,243.6,236.4,242.7,236.9,243.2,235.9,242.4,236.6,243.3,235.7,242.5,
  236.2,242.4,236.8,243.1,236.4,242.6,237.2,242.3,236.7,243.4,236.1,242.8,236.5,243.2,237.1,242.5,236.3,243.1,236.8,242.4,
  236.6,243.2,236.9,242.5,236.3,243.4,235.8,242.6,236.4,243.1,236.7,242.8,236.2,243.5,235.9,242.7,236.5,243.3,236.1,242.6,
  236.9,243.2,235.9,242.4,236.6,243.3,235.7,242.5,236.2,243.1,236.8,242.7,235.4,243.4,236.3,242.6,235.8,243.2,236.4,242.9,
  236.4,
];
const sasaG17C = [
  241.8,237.2,242.4,236.6,241.9,237.5,242.6,236.9,241.5,237.3,242.8,236.4,241.7,237.1,242.3,236.7,241.6,237.4,242.1,236.8,
  242.5,236.9,241.8,237.2,242.7,236.5,241.9,237.3,242.4,236.6,241.6,236.9,242.2,236.3,241.7,236.8,242.5,236.1,241.4,235.9,
  241.6,235.4,240.9,234.8,241.3,235.2,240.6,234.6,241.5,235.3,240.8,234.9,241.2,235.6,240.7,235.1,241.4,235.5,240.9,235.2,
  241.6,235.1,242.2,234.6,241.8,235.3,241.4,234.4,242.3,233.2,241.7,234.8,242.1,234.5,241.6,235.2,242.4,234.7,241.9,235.3,
  242.2,234.6,241.5,235.1,232.7,234.4,242.3,235.2,241.8,234.5,242.4,235.3,241.6,234.2,242.5,235.5,241.9,234.8,242.6,235.1,
  241.7,234.4,242.3,235.6,241.8,234.9,242.5,235.2,241.4,234.7,242.2,235.3,241.9,234.4,242.6,235.6,242.1,234.8,242.9,235.2,
  241.8,235.1,242.4,234.6,241.6,235.4,242.3,234.8,241.7,235.2,242.5,234.5,241.9,235.3,242.2,234.7,241.6,235.1,242.4,234.2,
  241.8,234.9,242.3,233.1,241.5,235.3,242.1,234.6,241.7,235.2,242.4,234.7,241.9,235.4,242.2,233.8,241.6,234.5,232.6,235.1,
  241.4,234.8,242.2,235.3,241.6,234.6,242.4,235.1,241.8,234.2,242.1,235.7,241.6,236.2,242.8,236.5,243.2,236.1,242.6,236.4,
  242.5,235.9,241.8,236.2,242.4,235.8,241.7,236.3,242.2,235.6,242.6,236.1,241.9,235.7,242.3,236.4,241.6,236.2,242.1,236.8,
  238.6,
];
const sasaC387N = [
  243.8,238.9,244.6,239.4,242.7,238.6,245.1,239.8,243.2,238.7,244.9,239.3,243.6,238.8,245.2,239.6,242.9,238.5,244.4,239.2,
  245.3,238.9,243.7,239.5,244.8,238.4,243.3,239.7,245.6,238.8,244.1,239.2,243.5,238.6,244.9,239.4,243.2,238.9,245.1,239.3,
  244.1,238.7,243.6,239.3,244.7,238.5,243.9,239.6,244.3,238.8,243.4,239.1,245.2,238.6,244.6,239.4,243.8,238.9,244.2,239.2,
  243.6,239.5,244.9,240.2,245.7,239.8,246.8,240.4,245.3,239.6,246.2,240.3,245.6,239.9,246.4,240.6,245.1,239.7,246.3,240.2,
  245.8,240.5,246.7,239.9,249.2,240.6,246.1,240.2,245.5,240.8,246.6,239.7,245.9,240.4,246.3,240.1,245.7,240.6,246.8,239.9,
  246.1,240.3,245.6,239.8,246.9,240.5,245.2,240.1,246.4,240.7,245.8,240.2,246.6,240.9,245.3,240.4,246.9,240.6,247.2,240.8,
  247.9,240.5,246.7,240.9,246.1,240.3,248.2,240.6,245.8,239.9,246.4,240.2,245.7,239.6,246.5,240.4,245.3,239.8,246.2,240.1,
  245.9,239.7,247.8,240.3,245.6,239.5,246.1,240.2,245.3,239.8,246.4,240.6,245.7,239.4,246.2,240.1,245.5,239.9,246.3,240.4,
  245.6,239.6,246.2,240.3,245.1,239.7,246.4,240.1,244.9,238.8,245.3,237.4,244.6,239.2,246.8,240.5,245.9,240.2,246.4,239.8,
  246.1,240.4,245.3,239.6,246.5,240.2,245.7,239.5,246.6,240.1,245.4,239.8,246.2,240.3,245.1,239.6,246.4,240.2,245.8,239.4,
  240.8,
];
const sasaYTicks = [230, 232, 234, 236, 238, 240, 242, 244, 246, 248, 250, 252];

// ---------- legend names / colours ----------
const namesA = ["WT-Reference ligand", "C387G-Reference ligand", "Y314C-Reference ligand", "G61A-Reference ligand", "G17C-Reference ligand", "C387N-Reference ligand"];
const namesC = ["WT-Reference ligand", "C387G-Reference ligand", "Y314C-Reference ligand", "G61A-Reference ligand", "G17C-Reference ligand", "C378N-Reference ligand"];
const colors = ["#4472C4", "#ED7D31", "#FF0000", "#FFC000", "#5B9BD5", "#70AD47"];
const colorsB = ["#4472C4", "#D98A2B", "#FF0000", "#FFC000", "#5B9BD5", "#70AD47"];

function toRows(x: number[], series: number[][]) {
  return x.map((v, i) => {
    const r: Record<string, number> = { x: v };
    series.forEach((s, k) => (r["s" + k] = s[i]));
    return r;
  });
}

const comma = (v: number) => String(v).replace(".", ",");

type Box = { l: number; r: number; t: number; b: number };

interface PanelProps {
  letter: string;
  top: number;
  height: number;
  plot: Box;
  data: Record<string, number>[];
  colors: string[];
  strokeWidth: number;
  xDomain: [number, number];
  xTicks: number[];
  yDomain: [number, number];
  yTicks: number[];
  yLabel: React.ReactNode;
  yLabelY: number;
  xLabel: string;
  xLabelX: number;
  xLabelY: number;
  xLabelSize: number;
  names: string[];
  legendRows: [number, number];
  legendCols: [number, number, number][];
  legendStroke: number;
}

const AXIS_W = 60;
const AXIS_H = 30;

function Panel(p: PanelProps) {
  const margin = {
    top: p.plot.t - p.top,
    right: 789 - p.plot.r,
    left: p.plot.l - AXIS_W,
    bottom: p.top + p.height - p.plot.b - AXIS_H,
  };
  const tick = { fill: "#595959", fontSize: 12, fontFamily: FONT };
  return (
    <>
      <div style={{ position: "absolute", left: 12, top: p.plot.t - 12, transform: "translate(-50%,-50%)", fontFamily: FONT, fontWeight: 900, fontSize: 23, color: "#111" }}>
        {p.letter}
      </div>
      <div style={{ position: "absolute", left: 0, top: p.top }}>
        <LineChart width={789} height={p.height} data={p.data} margin={margin}>
          <CartesianGrid vertical={false} stroke={GRID} />
          <XAxis dataKey="x" type="number" domain={p.xDomain} ticks={p.xTicks} height={AXIS_H} tick={tick} tickLine={false} axisLine={{ stroke: GRID }} tickMargin={7} interval={0} />
          <YAxis type="number" domain={p.yDomain} ticks={p.yTicks} width={AXIS_W} tick={tick} tickLine={false} axisLine={{ stroke: GRID }} tickMargin={6} tickFormatter={comma} interval={0} />
          {p.colors.map((c, k) => (
            <Line key={k} type="linear" dataKey={"s" + k} stroke={c} strokeWidth={p.strokeWidth} dot={false} isAnimationActive={false} />
          ))}
        </LineChart>
      </div>
      <div style={{ position: "absolute", left: 20, top: p.yLabelY, transform: "translate(-50%,-50%) rotate(-90deg)", whiteSpace: "nowrap", fontFamily: FONT, fontWeight: 700, fontSize: 13.5, color: TEXT }}>
        {p.yLabel}
      </div>
      <div style={{ position: "absolute", left: p.xLabelX, top: p.xLabelY, transform: "translate(-50%,-50%)", whiteSpace: "nowrap", fontFamily: FONT, fontWeight: 700, fontSize: p.xLabelSize, color: TEXT }}>
        {p.xLabel}
      </div>
      {p.names.map((n, k) => {
        const [x1, x2, tx] = p.legendCols[k % 3];
        const y = p.legendRows[Math.floor(k / 3)];
        return (
          <div key={n + k}>
            <div style={{ position: "absolute", left: x1, top: y - p.legendStroke / 2, width: x2 - x1, height: p.legendStroke, background: p.colors[k] }} />
            <div style={{ position: "absolute", left: tx, top: y, transform: "translateY(-50%)", whiteSpace: "nowrap", fontFamily: FONT, fontWeight: 700, fontSize: 12.5, color: TEXT }}>
              {n}
            </div>
          </div>
        );
      })}
    </>
  );
}

export default function App() {
  const dataA = toRows(rmsdTime, [rmsdWT, rmsdC387G, rmsdY314C, rmsdG61A, rmsdG17C, rmsdC387N]);
  const dataB = toRows(residues, [rmsfWT, rmsfC387G, rmsfY314C, rmsfG61A, rmsfG17C, rmsfC387N]);
  const dataC = toRows(rgTime, [rgWT, rgC387G, rgY314C, rgG61A, rgG17C, rgC387N]);
  const dataD = toRows(sasaTime, [sasaWT, sasaC387G, sasaY314C, sasaG61A, sasaG17C, sasaC387N]);
  return (
    <div style={{ position: "absolute", left: 0, top: 0, width: 789, height: 1365, background: "#fff", overflow: "hidden" }}>
      <Panel
        letter="A" top={0} height={290} plot={{ l: 69, r: 752, t: 27, b: 239 }}
        data={dataA} colors={colors} strokeWidth={1.2}
        xDomain={[0, 100]} xTicks={rmsdXTicks} yDomain={[0, 0.45]} yTicks={rmsdYTicks}
        yLabel="RMSD (nm)" yLabelY={133} xLabel="Time (ns)" xLabelX={411} xLabelY={277} xLabelSize={12.5}
        names={namesA} legendRows={[305, 324]} legendCols={[[90, 118, 120], [323, 350, 352], [556, 585, 587]]} legendStroke={2}
      />
      <Panel
        letter="B" top={340} height={250} plot={{ l: 62, r: 758, t: 366, b: 543 }}
        data={dataB} colors={colorsB} strokeWidth={2.5}
        xDomain={[0, 500]} xTicks={rmsfXTicks} yDomain={[0, 1]} yTicks={rmsfYTicks}
        yLabel="RMSF (nm)" yLabelY={452} xLabel="Residues" xLabelX={409} xLabelY={583} xLabelSize={17}
        names={namesA} legendRows={[624, 642]} legendCols={[[83, 113, 115], [313, 343, 345], [542, 572, 574]]} legendStroke={3}
      />
      <Panel
        letter="C" top={650} height={250} plot={{ l: 68, r: 765, t: 694, b: 866 }}
        data={dataC} colors={colors} strokeWidth={1.2}
        xDomain={[0, 100000]} xTicks={psTicks} yDomain={[2.16, 2.32]} yTicks={rgYTicks}
        yLabel="Radius of gyration (nm)" yLabelY={781} xLabel="Time (Ps)" xLabelX={416} xLabelY={906} xLabelSize={14}
        names={namesC} legendRows={[946, 970]} legendCols={[[67, 97, 98], [313, 342, 344], [558, 587, 589]]} legendStroke={2}
      />
      <Panel
        letter="D" top={1010} height={280} plot={{ l: 67, r: 765, t: 1035, b: 1253 }}
        data={dataD} colors={colors} strokeWidth={1.5}
        xDomain={[0, 100000]} xTicks={psTicks} yDomain={[230, 252]} yTicks={sasaYTicks}
        yLabel={<span>SASA (nm<sup style={{ fontSize: 8 }}>2</sup>)</span>} yLabelY={1145} xLabel="Time (Ps)" xLabelX={416} xLabelY={1293} xLabelSize={14}
        names={namesC} legendRows={[1331, 1354]} legendCols={[[58, 88, 90], [307, 337, 339], [557, 585, 588]]} legendStroke={2}
      />
    </div>
  );
}
